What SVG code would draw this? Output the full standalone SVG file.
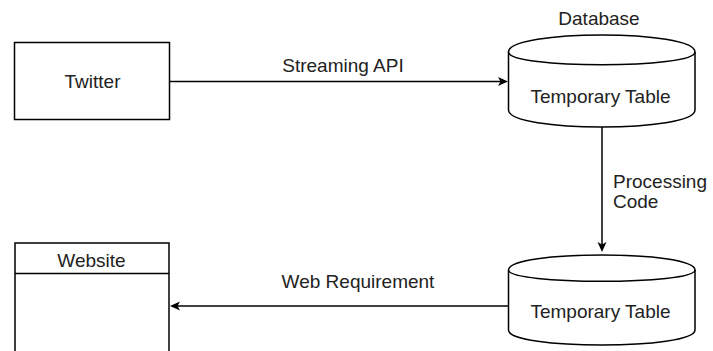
<svg xmlns="http://www.w3.org/2000/svg" width="713" height="351" viewBox="0 0 713 351">
<defs>
<style>
.shape{fill:#fff;stroke:#000;stroke-width:1.5}
.edge{fill:none;stroke:#000;stroke-width:1.5}
text{font-family:"Liberation Sans",Arial,sans-serif;font-size:19px;fill:#222}
.c{text-anchor:middle}
</style>
<marker id="arr" markerUnits="userSpaceOnUse" markerWidth="12" markerHeight="10" refX="7" refY="4.5" orient="auto">
<path d="M0,0 L10,4.5 L0,9 L2.5,4.5 Z" fill="#000"/>
</marker>
</defs>
<g id="twitter">
<rect class="shape" x="14.5" y="42.5" width="155" height="77"/>
<text class="c" x="92.5" y="88">Twitter</text>
</g>
<g id="database">
<path class="shape" d="M508.5,52 C508.5,29.3 695,29.3 695,52 L695,110 C695,132.7 508.5,132.7 508.5,110 Z"/>
<path class="edge" d="M508.5,52 C508.5,69 695,69 695,52"/>
<text class="c" x="599" y="25">Database</text>
<text class="c" x="600.5" y="103">Temporary Table</text>
</g>
<g id="table2">
<path class="shape" d="M508.5,270 C508.5,250 695,250 695,270 L695,330 C695,350 508.5,350 508.5,330 Z"/>
<path class="edge" d="M508.5,270 C508.5,285 695,285 695,270"/>
<text class="c" x="600.5" y="318">Temporary Table</text>
</g>
<g id="website">
<rect class="shape" x="15" y="243" width="154" height="130"/>
<line class="edge" x1="15" y1="273.5" x2="169" y2="273.5"/>
<text class="c" x="91.5" y="267">Website</text>
</g>
<g id="connectors">
<path class="edge" d="M169.5,81.5 H505" marker-end="url(#arr)"/>
<text class="c" x="343" y="72">Streaming API</text>
<path class="edge" d="M602,127 V249" marker-end="url(#arr)"/>
<text x="613" y="188">Processing</text>
<text x="613" y="208">Code</text>
<path class="edge" d="M508.5,306 H173" marker-end="url(#arr)"/>
<text class="c" x="358" y="288">Web Requirement</text>
</g>
</svg>
